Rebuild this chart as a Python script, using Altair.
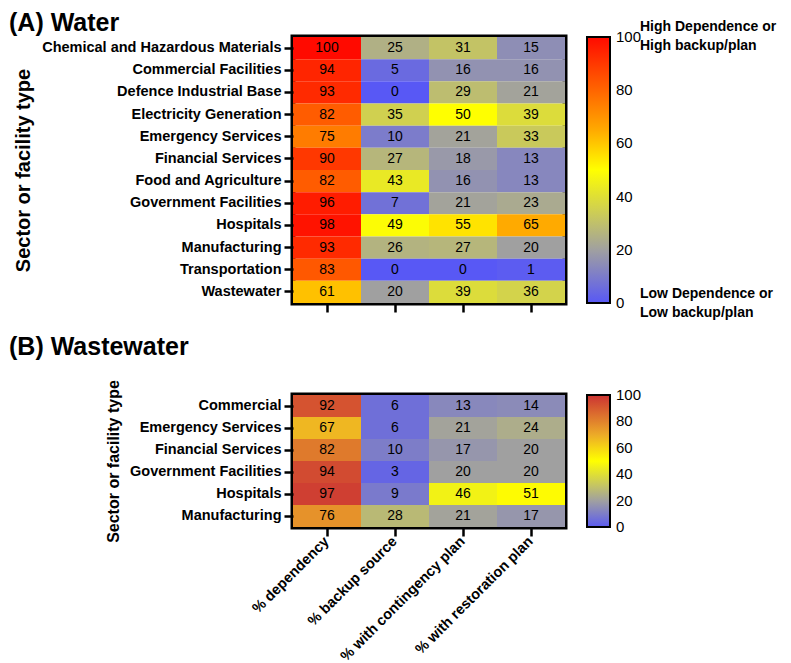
import altair as alt
import pandas as pd

FONT = "Liberation Sans"

metrics = ["% dependency", "% backup source", "% with contingency plan", "% with restoration plan"]

water_sectors = ["Chemical and Hazardous Materials", "Commercial Facilities", "Defence Industrial Base",
                 "Electricity Generation", "Emergency Services", "Financial Services", "Food and Agriculture",
                 "Government Facilities", "Hospitals", "Manufacturing", "Transportation", "Wastewater"]
water_dependency = [100, 94, 93, 82, 75, 90, 82, 96, 98, 93, 83, 61]
water_backup = [25, 5, 0, 35, 10, 27, 43, 7, 49, 26, 0, 20]
water_contingency = [31, 16, 29, 50, 21, 18, 16, 21, 55, 27, 0, 39]
water_restoration = [15, 16, 21, 39, 33, 13, 13, 23, 65, 20, 1, 36]

ww_sectors = ["Commercial", "Emergency Services", "Financial Services", "Government Facilities",
              "Hospitals", "Manufacturing"]
ww_dependency = [92, 67, 82, 94, 97, 76]
ww_backup = [6, 6, 10, 3, 9, 28]
ww_contingency = [13, 21, 17, 20, 46, 21]
ww_restoration = [14, 24, 20, 20, 51, 17]

# colorbar tick values (end ticks nudged a hair inside so their labels centre on the bar ends)
legend_values = [0.01, 20, 40, 60, 80, 99.99]
high_note = "High Dependence or\nHigh backup/plan"
low_note = "Low Dependence or\nLow backup/plan"


def long_df(sectors, columns):
    rows = []
    for m, vals in zip(metrics, columns):
        for s, v in zip(sectors, vals):
            rows.append({"Sector": s, "Metric": m, "Value": v})
    return pd.DataFrame(rows)


water_df = long_df(water_sectors, [water_dependency, water_backup, water_contingency, water_restoration])
ww_df = long_df(ww_sectors, [ww_dependency, ww_backup, ww_contingency, ww_restoration])

water_scale = alt.Scale(domain=[0, 20, 50, 65, 100],
                        range=["#5858f5", "#a0a0a0", "#ffff00", "#ffaa00", "#ff0a00"],
                        interpolate="rgb")
ww_scale = alt.Scale(domain=[0, 20, 50, 70, 100],
                     range=["#5a5af0", "#a0a0a0", "#ffff00", "#ecaa28", "#cc3333"],
                     interpolate="rgb")

W = 272
HA = 266
HB = 132


def panel(df, sectors, scale, h, ytitle_size, show_labels):
    x = alt.X("Metric:N", sort=metrics,
              axis=alt.Axis(title=None, labels=show_labels, labelAngle=-45, labelAlign="right",
                            labelBaseline="middle", bandPosition=0.5, labelPadding=3))
    y = alt.Y("Sector:N", sort=sectors,
              axis=alt.Axis(title="Sector or facility type", titleFontSize=ytitle_size, bandPosition=0.5))
    base = alt.Chart(df).encode(x=x, y=y)
    rect = base.mark_rect().encode(
        color=alt.Color("Value:Q", scale=scale,
                        legend=alt.Legend(title=None, orient="right", offset=22, gradientLength=h,
                                          gradientThickness=23, values=legend_values, labelFontSize=15,
                                          labelFont=FONT, labelColor="black", gradientStrokeColor="black",
                                          gradientStrokeWidth=2, direction="vertical", labelOverlap=False,
                                          labelOffset=6, labelExpr="round(datum.value)"))
    )
    text = base.mark_text(font=FONT, fontSize=14, color="black").encode(text="Value:Q")
    return rect, text


rect_a, text_a = panel(water_df, water_sectors, water_scale, HA, 20, False)
note_hi = alt.Chart(pd.DataFrame({"note": [high_note]})).mark_text(
    font=FONT, fontSize=14, fontWeight="bold", align="left", baseline="top", lineBreak="\n",
    lineHeight=19, color="black").encode(x=alt.value(347), y=alt.value(-17), text="note:N")
note_lo = alt.Chart(pd.DataFrame({"note": [low_note]})).mark_text(
    font=FONT, fontSize=14, fontWeight="bold", align="left", baseline="top", lineBreak="\n",
    lineHeight=19, color="black").encode(x=alt.value(347), y=alt.value(HA - 16), text="note:N")

chart_a = alt.layer(rect_a, text_a, note_hi, note_lo).properties(
    width=W, height=HA,
    title=alt.Title("(A) Water", anchor="start", frame="group", fontSize=25, font=FONT,
                    fontWeight="bold", color="black", offset=-16, dx=-284))

rect_b, text_b = panel(ww_df, ww_sectors, ww_scale, HB, 16, True)
chart_b = alt.layer(rect_b, text_b).properties(
    width=W, height=HB,
    title=alt.Title("(B) Wastewater", anchor="start", frame="group", fontSize=25, font=FONT,
                    fontWeight="bold", color="black", offset=20, dx=-284))

chart = alt.vconcat(chart_a, chart_b, spacing=9).resolve_scale(color="independent").properties(
    padding={"left": -2, "top": 0, "right": 0, "bottom": 0}
).configure_view(
    stroke="black", strokeWidth=5
).configure_axis(
    domain=False, grid=False, tickColor="black", tickWidth=2.5, tickSize=9, maxExtent=400,
    labelFont=FONT, labelFontSize=14.5, labelFontWeight="bold", labelColor="black", labelLimit=320,
    titleFont=FONT, titleFontWeight="bold", titleColor="black", labelPadding=3, titlePadding=8
)

chart.save("out.html", embed_options={"renderer": "svg", "actions": False})
